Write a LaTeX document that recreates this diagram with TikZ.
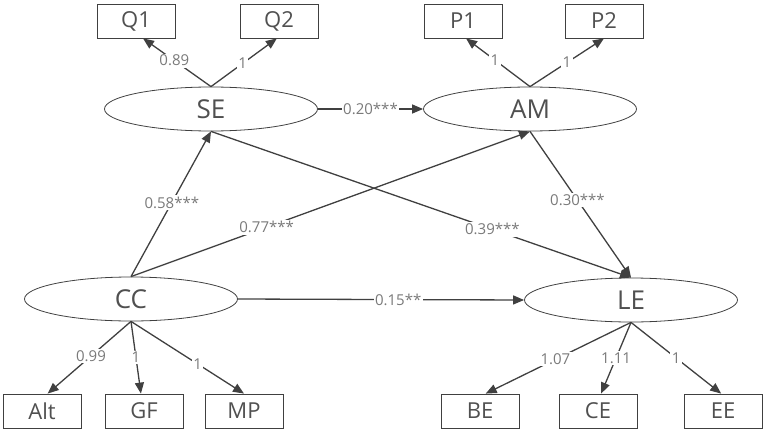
\documentclass[tikz,border=0pt]{standalone}
\usepackage{fontspec}
\setmainfont{Open Sans}
\usetikzlibrary{positioning,shapes.geometric,arrows.meta}

\definecolor{linegray}{HTML}{404040}
\definecolor{textgray}{HTML}{505050}
\definecolor{coefgray}{HTML}{7A7A7A}

\begin{document}
\begin{tikzpicture}[
			x=1pt, y=-1pt,
			latent/.style={ellipse, draw=linegray, thick, inner sep=0pt, minimum width=213pt, minimum height=44pt, text=textgray, font=\fontsize{26}{26}\selectfont},
			item/.style={rectangle, draw=linegray, thick, inner sep=0pt, minimum width=78pt, minimum height=34pt, text=textgray, font=\fontsize{22}{22}\selectfont},
			path/.style={draw=linegray, line width=1.3pt, -{Triangle[length=11pt,width=9pt]}},
			coef/.style={fill=white, inner sep=1.5pt, text=coefgray, font=\fontsize{15}{15}\selectfont},
			]
			\useasboundingbox (0,0) rectangle (767,433);
			%Latent variables
			\node[latent] (SE) at (211,109) {SE};
			\node[latent] (AM) at (530,109) {AM};
			\node[latent] (CC) at (131,299) {CC};
			\node[latent] (LE) at (631,300) {LE};

			%Indicators
			\node[item] (Q1)  at (136,21)  {Q1};
			\node[item] (Q2)  at (279,21)  {Q2};
			\node[item] (P1)  at (463,21)  {P1};
			\node[item] (P2)  at (604,21)  {P2};
			\node[item] (Alt) at (42,411)  {Alt};
			\node[item] (GF)  at (144,411) {GF};
			\node[item] (MP)  at (244,411) {MP};
			\node[item] (BE)  at (480,411) {BE};
			\node[item] (CE)  at (598,411) {CE};
			\node[item] (EE)  at (723,411) {EE};

			%Loadings
			\draw[path] (SE.north) -- node[coef, pos=0.54] {0.89} (Q1.-68);
			\draw[path] (SE.north) -- node[coef, pos=0.48] {1} (Q2.-97);
			\draw[path] (AM.north) -- node[coef, pos=0.55] {1} (P1.-80);
			\draw[path] (AM.north) -- node[coef, pos=0.5] {1} (P2.south);
			\draw[path] (CC.south) -- node[coef, pos=0.48] {0.99} (Alt.72);
			\draw[path] (CC.south) -- node[coef, pos=0.5] {1} (GF.100);
			\draw[path] (CC.south) -- node[coef, pos=0.59] {1} (MP.north);
			\draw[path] (LE.south) -- node[coef, pos=0.52] {1.07} (BE.72);
			\draw[path] (LE.south) -- node[coef, pos=0.5] {1.11} (CE.80);
			\draw[path] (LE.south) -- node[coef, pos=0.5] {1} (EE.96);

			%Structural paths
			\draw[path] (SE.east) -- node[coef] {0.20***} (AM.west);
			\draw[path] (CC.north) -- node[coef, pos=0.51] {0.58***} (SE.south);
			\draw[path] (CC.north) -- node[coef, pos=0.34] {0.77***} (AM.south);
			\draw[path] (SE.south) -- node[coef, pos=0.67] {0.39***} (LE.north);
			\draw[path] (AM.south) -- node[coef, pos=0.47] {0.30***} (LE.north);
			\draw[path] (CC.east) -- node[coef, pos=0.56] {0.15**} (LE.west);
		\end{tikzpicture}
\end{document}
